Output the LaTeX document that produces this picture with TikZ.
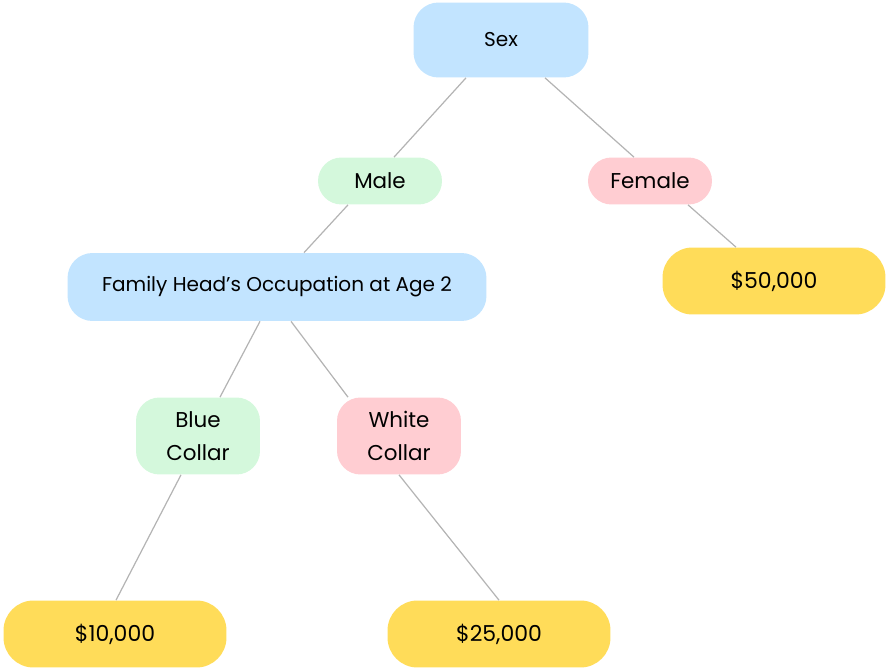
\documentclass[tikz,border=0pt]{standalone}
\usepackage{fontspec}
\setmainfont{Poppins}
\usepackage{tikz}

\definecolor{qblue}{HTML}{C2E4FF}
\definecolor{qgreen}{HTML}{D4F8DC}
\definecolor{qpink}{HTML}{FFCDD2}
\definecolor{qgold}{HTML}{FFDC59}
\definecolor{qline}{HTML}{B4B4B4}

\tikzset{
  split/.style={fill=qblue, rounded corners=0.5cm, font=\fontsize{11.4}{13}\selectfont},
  branch/.style={rounded corners=0.47cm, minimum width=2.48cm, font=\fontsize{12.2}{18.7}\selectfont, align=center},
  leafbox/.style={fill=qgold, rounded corners=0.6cm, minimum width=4.46cm, minimum height=1.34cm, font=\fontsize{12.5}{14}\selectfont},
  link/.style={draw=qline, line width=0.7pt}
}

\begin{document}
\begin{tikzpicture}[x=0.02cm,y=-0.02cm]
  \useasboundingbox (0,0) rectangle (886,669);
  % nodes
  \node[split, minimum width=3.5cm, minimum height=1.5cm] (sex) at (501,40) {Sex};
  \node[branch, fill=qgreen, minimum height=0.94cm] (male) at (380,181) {Male};
  \node[branch, fill=qpink, minimum height=0.94cm] (female) at (650,181) {Female};
  \node[split, minimum width=8.38cm, minimum height=1.36cm] (occ) at (277,287) {Family Head’s Occupation at Age 2};
  \node[leafbox] (fifty) at (774,281) {\$50,000};
  \node[branch, fill=qgreen, minimum height=1.54cm] (blue) at (198,436) {Blue\\Collar};
  \node[branch, fill=qpink, minimum height=1.54cm] (white) at (399,436) {White\\Collar};
  \node[leafbox] (ten) at (115,634) {\$10,000};
  \node[leafbox] (twentyfive) at (499,634) {\$25,000};
  % connectors
  \draw[link] ([xshift=-0.7cm]sex.south) -- ([xshift=0.28cm]male.north);
  \draw[link] ([xshift=0.88cm]sex.south) -- ([xshift=-0.32cm]female.north);
  \draw[link] ([xshift=-0.64cm]male.south) -- ([xshift=0.54cm]occ.north);
  \draw[link] ([xshift=0.76cm]female.south) -- ([xshift=-0.76cm]fifty.north);
  \draw[link] ([xshift=-0.34cm]occ.south) -- ([xshift=0.44cm]blue.north);
  \draw[link] ([xshift=0.28cm]occ.south) -- ([xshift=-1.02cm]white.north);
  \draw[link] ([xshift=-0.34cm]blue.south) -- ([xshift=0.02cm]ten.north);
  \draw[link] (white.south) -- (twentyfive.north);
\end{tikzpicture}
\end{document}
